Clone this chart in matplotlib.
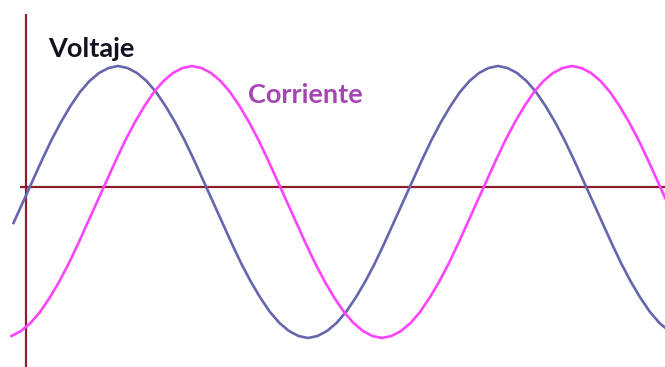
import matplotlib.pyplot as plt

# readings: x along the time axis, y above/below the horizontal axis
volt_x = [13.5, 23, 32.5, 42, 51.5, 61, 70.5, 80, 89.5, 99, 108.5, 118, 127.5, 137, 146.5,
          156, 165.5, 175, 184.5, 194, 203.5, 213, 222.5, 232, 241.5, 251, 260.5, 270,
          279.5, 289, 298.5, 308, 317.5, 327, 336.5, 346, 355.5, 365, 374.5, 384, 393.5,
          403, 412.5, 422, 431.5, 441, 450.5, 460, 469.5, 479, 488.5, 498, 507.5, 517,
          526.5, 536, 545.5, 555, 564.5, 574, 583.5, 593, 602.5, 612, 621.5, 631, 640.5,
          650, 659.5, 669]
volt_y = [-36, -15, 6, 27, 47, 65, 81, 95, 106, 114, 119, 121, 119, 114, 106, 95, 81, 65,
          47, 27, 6, -15, -36, -57, -77, -95, -111, -125, -136, -144, -149, -151, -149,
          -144, -136, -125, -111, -95, -77, -57, -36, -15, 6, 27, 47, 65, 81, 95, 106, 114,
          119, 121, 119, 114, 106, 95, 81, 65, 47, 27, 6, -15, -36, -57, -77, -95, -111,
          -125, -136, -144]

curr_x = [11.5, 21, 30.5, 40, 49.5, 59, 68.5, 78, 87.5, 97, 106.5, 116, 125.5, 135, 144.5,
          154, 163.5, 173, 182.5, 192, 201.5, 211, 220.5, 230, 239.5, 249, 258.5, 268,
          277.5, 287, 296.5, 306, 315.5, 325, 334.5, 344, 353.5, 363, 372.5, 382, 391.5,
          401, 410.5, 420, 429.5, 439, 448.5, 458, 467.5, 477, 486.5, 496, 505.5, 515,
          524.5, 534, 543.5, 553, 562.5, 572, 581.5, 591, 600.5, 610, 619.5, 629, 638.5,
          648, 657.5, 667]
curr_y = [-149, -144, -136, -125, -111, -95, -77, -57, -36, -15, 6, 27, 47, 65, 81, 95, 106,
          114, 119, 121, 119, 114, 106, 95, 81, 65, 47, 27, 6, -15, -36, -57, -77, -95, -111,
          -125, -136, -144, -149, -151, -149, -144, -136, -125, -111, -95, -77, -57, -36,
          -15, 6, 27, 47, 65, 81, 95, 106, 114, 119, 121, 119, 114, 106, 95, 81, 65, 47, 27,
          6, -15]

label_v = 'Voltaje'
label_c = 'Corriente'

fig = plt.figure(figsize=(6.65, 3.67), dpi=100)
ax = fig.add_axes([0, 0, 1, 1])
ax.set_xlim(0, 665)
ax.set_ylim(-180, 187)
ax.axis('off')

axis_col = '#8e1c2c'
ax.plot([20, 665], [0, 0], color=axis_col, lw=1.6, solid_capstyle='butt')
ax.plot([25.5, 25.5], [173, -180], color=axis_col, lw=1.6, solid_capstyle='butt')

ax.plot(volt_x, volt_y, color='#6666ac', lw=1.9)
ax.plot(curr_x, curr_y, color='#ff44ff', lw=1.9)

ax.text(48, 130, label_v, fontsize=19.5, fontweight='bold', family='Lato',
        color='#151020', ha='left', va='baseline')
ax.text(248, 84, label_c, fontsize=19.5, fontweight='bold', family='Lato',
        color='#a646b4', ha='left', va='baseline')

fig.savefig('out.png', dpi=100)
